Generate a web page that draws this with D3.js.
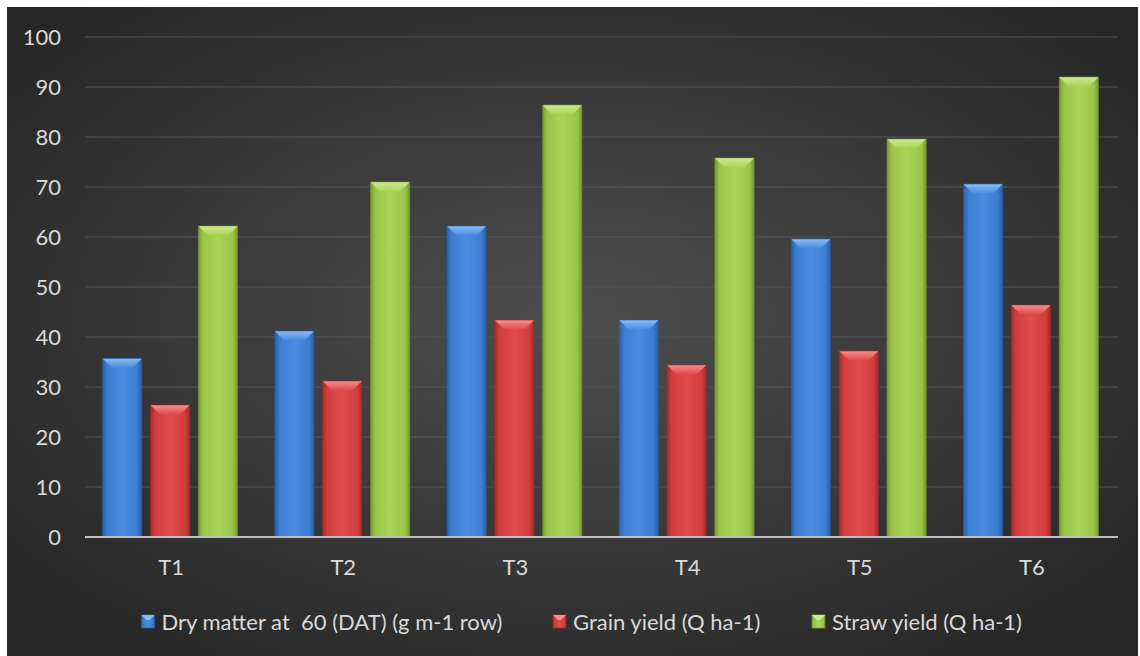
<!DOCTYPE html>
<html>
<head>
<meta charset="utf-8">
<script src="https://cdn.jsdelivr.net/npm/d3@7"></script>
<style>
  html, body { margin: 0; padding: 0; background: #ffffff; }
  svg { display: block; }
  text { font-family: Lato, "Open Sans", sans-serif; }
</style>
</head>
<body>
<svg id="chart" width="1140" height="656"></svg>
<script>
// Treatments along the x axis
const categories = ["T1", "T2", "T3", "T4", "T5", "T6"];
// Series names (legend)
const seriesNames = [
  "Dry matter at  60 (DAT) (g m-1 row)",
  "Grain yield (Q ha-1)",
  "Straw yield (Q ha-1)"
];
// Values per series, one per treatment
const dryMatter = [35.7, 41.2, 62.2, 43.4, 59.6, 70.6];
const grainYield = [26.4, 31.2, 43.4, 34.4, 37.2, 46.4];
const strawYield = [62.2, 71.0, 86.4, 75.8, 79.6, 92.0];
// Y axis ticks
const yTicks = [0, 10, 20, 30, 40, 50, 60, 70, 80, 90, 100];

const seriesValues = [dryMatter, grainYield, strawYield];
const palette = [
  { body: "#3b7dd2", dark: "#2a5ea6", light: "#8dbdf5", mid: "#4a8de0" },
  { body: "#d23d3d", dark: "#a52a2a", light: "#f78f8f", mid: "#e04b4b" },
  { body: "#9bc549", dark: "#76982f", light: "#d0e994", mid: "#a9d456" }
];
const fontSize = "22px";

const svg = d3.select("#chart");
const defs = svg.append("defs");

// Background panel with a soft radial light in the middle
const bg = defs.append("radialGradient").attr("id", "bgGrad")
  .attr("cx", "50%").attr("cy", "48%").attr("r", "65%");
bg.append("stop").attr("offset", "0%").attr("stop-color", "#4e4e4e");
bg.append("stop").attr("offset", "100%").attr("stop-color", "#262626");
svg.append("rect").attr("x", 7).attr("y", 7).attr("width", 1131).attr("height", 649)
  .attr("fill", "url(#bgGrad)");

// Gradients for bar bodies and their bevelled tops
palette.forEach((c, i) => {
  const g = defs.append("linearGradient").attr("id", "body" + i)
    .attr("x1", "0%").attr("x2", "100%").attr("y1", "0%").attr("y2", "0%");
  g.append("stop").attr("offset", "0%").attr("stop-color", c.dark);
  g.append("stop").attr("offset", "12%").attr("stop-color", c.body);
  g.append("stop").attr("offset", "50%").attr("stop-color", c.mid);
  g.append("stop").attr("offset", "88%").attr("stop-color", c.body);
  g.append("stop").attr("offset", "100%").attr("stop-color", c.dark);
  const t = defs.append("linearGradient").attr("id", "top" + i)
    .attr("x1", "0%").attr("x2", "0%").attr("y1", "0%").attr("y2", "100%");
  t.append("stop").attr("offset", "0%").attr("stop-color", c.light);
  t.append("stop").attr("offset", "100%").attr("stop-color", c.mid);
});

const plot = { left: 85, right: 1118, top: 37, bottom: 537 };

const x0 = d3.scaleBand().domain(categories).range([plot.left, plot.right]);
const x1 = d3.scaleBand().domain(d3.range(seriesNames.length))
  .range([17.6, x0.bandwidth() - 19.6]).paddingInner(0.18);
const y = d3.scaleLinear().domain([0, 100]).range([plot.bottom, plot.top]);

// Gridlines
svg.append("g").selectAll("line").data(yTicks.filter(t => t > 0)).join("line")
  .attr("x1", plot.left).attr("x2", plot.right)
  .attr("y1", d => y(d)).attr("y2", d => y(d))
  .attr("stroke", "#555555").attr("stroke-width", 1.2);

// Y axis labels
const yAxis = d3.axisLeft(y).tickValues(yTicks).tickSize(0).tickPadding(0);
const yg = svg.append("g").attr("transform", "translate(61,0)").call(yAxis);
yg.select(".domain").remove();
yg.selectAll("text").attr("fill", "#d9d9d9").style("font-size", fontSize)
  .style("font-family", "Lato, sans-serif");

// Bars with bevelled tops
const bevel = 9;
const groups = svg.append("g").selectAll("g").data(categories).join("g")
  .attr("transform", d => `translate(${x0(d)},0)`);

groups.each(function (cat, ci) {
  const g = d3.select(this);
  seriesValues.forEach((vals, si) => {
    const v = vals[ci];
    const bx = x1(si), bw = x1.bandwidth();
    const top = y(v), bot = y(0);
    g.append("rect").attr("x", bx).attr("y", top).attr("width", bw)
      .attr("height", bot - top).attr("fill", `url(#body${si})`);
    g.append("polygon")
      .attr("points", [[bx, top], [bx + bw, top], [bx + bw - bevel, top + bevel], [bx + bevel, top + bevel]]
        .map(p => p.join(",")).join(" "))
      .attr("fill", `url(#top${si})`);
    g.append("rect").attr("x", bx).attr("y", top).attr("width", bw)
      .attr("height", bot - top).attr("fill", "none")
      .attr("stroke", palette[si].dark).attr("stroke-width", 0.8).attr("stroke-opacity", 0.7);
  });
});

// Category axis
svg.append("line").attr("x1", plot.left).attr("x2", plot.right)
  .attr("y1", plot.bottom).attr("y2", plot.bottom)
  .attr("stroke", "#bfbfbf").attr("stroke-width", 2);
const xAxis = d3.axisBottom(x0).tickSize(0).tickPadding(0);
const xg = svg.append("g").attr("transform", `translate(0,${plot.bottom + 22})`).call(xAxis);
xg.select(".domain").remove();
xg.selectAll("text").attr("fill", "#d9d9d9").style("font-size", fontSize)
  .style("font-family", "Lato, sans-serif");

// Legend
const legendX = [141.5, 553, 812];
const legend = svg.append("g").selectAll("g").data(seriesNames).join("g")
  .attr("transform", (d, i) => `translate(${legendX[i]},615)`);
legend.append("rect").attr("width", 13).attr("height", 13)
  .attr("fill", (d, i) => `url(#body${i})`)
  .attr("stroke", (d, i) => palette[i].dark).attr("stroke-width", 0.8);
legend.append("polygon").attr("points", "0,0 13,0 8,5 5,5")
  .attr("fill", (d, i) => palette[i].light);
legend.append("text").attr("x", 20).attr("y", 15)
  .attr("fill", "#d9d9d9").style("font-size", fontSize).style("white-space", "pre")
  .text(d => d);
</script>
</body>
</html>
